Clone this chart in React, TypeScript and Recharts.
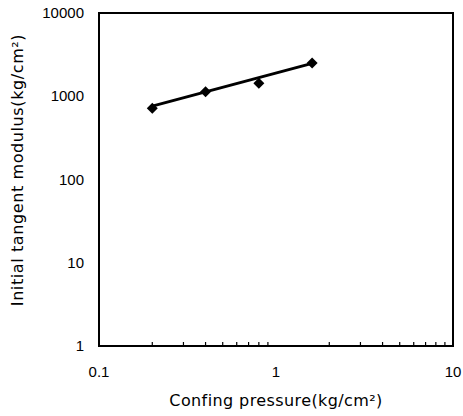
import React from "react";
import { ComposedChart, Line, Scatter, XAxis, YAxis, ReferenceArea } from "recharts";

const pressures = [0.2, 0.4, 0.8, 1.6];
const moduli = [720, 1130, 1430, 2500];
const fitPressures = [0.2, 1.6];
const fitModuli = [760, 2480];

const xTicks = [0.1, 0.2, 0.3, 0.4, 0.5, 0.6, 0.7, 0.8, 0.9, 1, 2, 3, 4, 5, 6, 7, 8, 9, 10];
const xMajor = [0.1, 1, 10];
const yTicks = [1, 10, 100, 1000, 10000];
const xTitle = "Confing pressure(kg/cm²)";
const yTitle = "Initial tangent modulus(kg/cm²)";

const points = pressures.map((x, i) => ({ x, y: moduli[i] }));
const fit = fitPressures.map((x, i) => ({ x, y: fitModuli[i] }));

const FONT = "'Liberation Sans', Arial, sans-serif";
const TITLE_FONT = "'DejaVu Sans', sans-serif";

const XTick = (props: any) => {
  const { x, y, payload } = props;
  const v = payload.value;
  const major = xMajor.some((m) => Math.abs(m - v) < 1e-9);
  return (
    <g>
      {!major && <line x1={x} x2={x} y1={y} y2={y - 4} stroke="#000" strokeWidth={1.2} />}
      {major && (
        <text x={x} y={y + 31} textAnchor="middle" fontSize={15} fontFamily={FONT} fill="#000">
          {String(v)}
        </text>
      )}
    </g>
  );
};

const YTick = (props: any) => {
  const { x, y, payload } = props;
  return (
    <text x={x - 15} y={y + 5} textAnchor="end" fontSize={15} fontFamily={FONT} fill="#000">
      {String(payload.value)}
    </text>
  );
};

const Diamond = (props: any) => {
  const { cx, cy } = props;
  const r = 5.5;
  return <path d={`M${cx},${cy - r} L${cx + r},${cy} L${cx},${cy + r} L${cx - r},${cy} Z`} fill="#000" />;
};

export default function App() {
  return (
    <div style={{ position: "absolute", top: 0, left: 0, width: 463, height: 416, background: "#fff" }}>
      <ComposedChart
        width={463}
        height={416}
        margin={{ top: 13, right: 10, left: 0, bottom: 0 }}
      >
        <XAxis
          dataKey="x"
          type="number"
          scale="log"
          domain={[0.1, 10]}
          ticks={xTicks}
          interval={0}
          tick={<XTick />}
          tickLine={false}
          tickSize={0}
          tickMargin={0}
          axisLine={{ stroke: "#000", strokeWidth: 2 }}
          height={70}
          allowDataOverflow
          label={{
            content: (p: any) => {
              const vb = p.viewBox;
              return (
                <text x={vb.x + vb.width / 2} y={vb.y + 60} textAnchor="middle" fontSize={16} letterSpacing={0.4} fontFamily={TITLE_FONT} fill="#000">
                  {xTitle}
                </text>
              );
            },
          }}
        />
        <YAxis
          dataKey="y"
          type="number"
          scale="log"
          domain={[1, 10000]}
          ticks={yTicks}
          interval={0}
          tick={<YTick />}
          tickLine={false}
          tickSize={0}
          tickMargin={0}
          axisLine={{ stroke: "#000", strokeWidth: 2 }}
          width={99}
          allowDataOverflow
          label={{
            content: () => {
              const cx = 18;
              const cy = 170;
              return (
                <text x={cx} y={cy} transform={`rotate(-90 ${cx} ${cy})`} textAnchor="middle" dominantBaseline="middle" fontSize={16} letterSpacing={0.6} fontFamily={TITLE_FONT} fill="#000">
                  {yTitle}
                </text>
              );
            },
          }}
        />
        <ReferenceArea x1={0.1} x2={10} y1={1} y2={10000} fill="none" stroke="#000" strokeWidth={2} ifOverflow="visible" />
        <Line data={fit} dataKey="y" stroke="#000" strokeWidth={3} dot={false} isAnimationActive={false} />
        <Scatter data={points} dataKey="y" fill="#000" shape={<Diamond />} isAnimationActive={false} />
      </ComposedChart>
    </div>
  );
}
